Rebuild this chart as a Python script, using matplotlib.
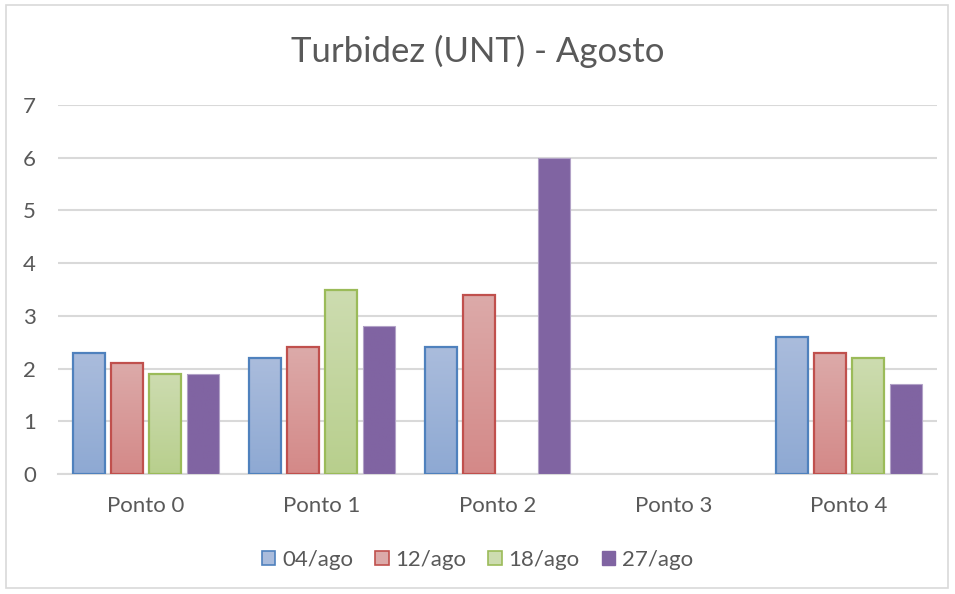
import numpy as np
import matplotlib.pyplot as plt
from matplotlib.patches import Rectangle, Patch
from matplotlib.colors import LinearSegmentedColormap

plt.rcParams['font.family'] = ['Lato', 'DejaVu Sans']

categories = ["Ponto 0", "Ponto 1", "Ponto 2", "Ponto 3", "Ponto 4"]
series = ["04/ago", "12/ago", "18/ago", "27/ago"]
ago04 = [2.3, 2.2, 2.4, np.nan, 2.6]
ago12 = [2.1, 2.4, 3.4, np.nan, 2.3]
ago18 = [1.9, 3.5, np.nan, np.nan, 2.2]
ago27 = [1.9, 2.8, 6.0, np.nan, 1.7]
values = [ago04, ago12, ago18, ago27]

# (top colour, bottom colour, edge colour)
styles = [
    ("#aabcdc", "#8ea9d3", "#4f81bd"),
    ("#dcaaa9", "#d48988", "#c0504d"),
    ("#cddcb0", "#b8cf8d", "#9bbb59"),
    ("#8064a2", "#8064a2", "#b2a2c7"),
]

fig = plt.figure(figsize=(9.55, 5.94), dpi=100)
ax = fig.add_axes([58 / 955, 120 / 594, 879 / 955, 369 / 594])

fig.patches.append(Rectangle((6 / 955, 6 / 594), 942 / 955, 583 / 594,
                             transform=fig.transFigure, fill=False,
                             edgecolor="#d9d9d9", linewidth=1.2))

x = np.arange(len(categories))
step = 0.216
width = 0.182
for i, (vals, (top, bot, edge)) in enumerate(zip(values, styles)):
    cmap = LinearSegmentedColormap.from_list("g%d" % i, [bot, top])
    pos = x + (i - 1.5) * step
    for xp, v in zip(pos, vals):
        if np.isnan(v):
            continue
        bar = ax.bar(xp, v, width, color="none", edgecolor=edge,
                     linewidth=1.6 if i < 3 else 0.8, zorder=4)[0]
        grad = np.linspace(0, 1, 100).reshape(-1, 1)
        im = ax.imshow(grad, cmap=cmap, origin="lower", aspect="auto",
                       extent=(xp - width / 2, xp + width / 2, 0, v), zorder=3)
        im.set_clip_path(bar)

ax.set_xlim(-0.5, len(categories) - 0.5)
ax.set_ylim(0, 7)
ax.set_yticks(range(8))
ax.set_xticks(x)
ax.set_xticklabels(categories)
ax.tick_params(length=0, labelsize=16, colors="#595959")
ax.tick_params(axis="x", pad=16)
ax.tick_params(axis="y", pad=16)
ax.grid(axis="y", color="#d9d9d9", linewidth=1.5, zorder=0)
ax.set_axisbelow(True)
for s in ["top", "right", "left"]:
    ax.spines[s].set_visible(False)
ax.spines["bottom"].set_color("#d9d9d9")
ax.spines["bottom"].set_linewidth(1.5)

fig.text(0.5, 0.913, "Turbidez (UNT) - Agosto", ha="center", va="center",
         fontsize=25, color="#595959")

handles = [Patch(facecolor=t, edgecolor=e, linewidth=1.2) for t, b, e in styles]
handles[3] = Patch(facecolor="#8064a2", edgecolor="#8064a2")
fig.legend(handles, series, loc="center", bbox_to_anchor=(0.5, 0.058), ncol=4,
           frameon=False, fontsize=16, labelcolor="#595959",
           handlelength=0.6, handleheight=0.6, handletextpad=0.3,
           columnspacing=1.0)

fig.savefig("out.png", dpi=100)
